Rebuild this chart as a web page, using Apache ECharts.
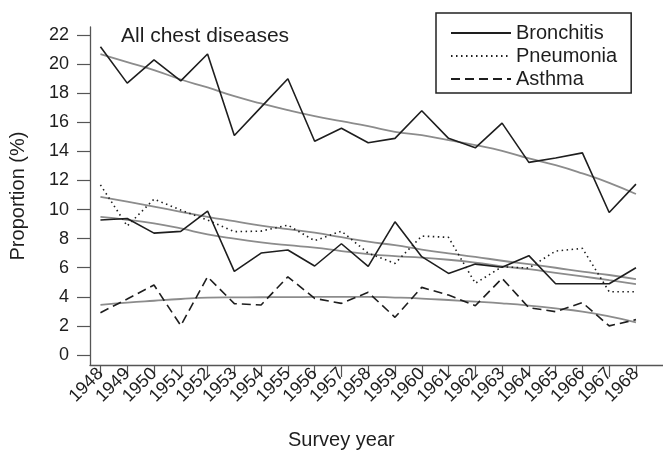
<!DOCTYPE html>
<html><head><meta charset="utf-8">
<script src="https://cdn.jsdelivr.net/npm/echarts@6/dist/echarts.min.js"></script>
<style>html,body{margin:0;padding:0;background:#fff}#c{width:663px;height:452px}</style>
</head><body><div id="c"></div>
<script>
const years = [1948,1949,1950,1951,1952,1953,1954,1955,1956,1957,1958,1959,1960,1961,1962,1963,1964,1965,1966,1967,1968];
const yTicks = [0,2,4,6,8,10,12,14,16,18,20,22];
const allChest = [21.2,18.7,20.3,18.85,20.7,15.1,17.05,19.0,14.7,15.6,14.6,14.9,16.8,14.9,14.25,15.95,13.25,13.55,13.9,9.8,11.75];
const bronchitis = [9.28,9.39,8.38,8.5,9.9,5.75,7.01,7.22,6.12,7.65,6.1,9.16,6.76,5.61,6.25,6.03,6.83,4.9,4.9,4.9,6.0];
const pneumonia = [11.7,8.87,10.72,9.97,9.28,8.48,8.52,8.93,7.86,8.52,7.0,6.3,8.18,8.09,4.93,6.07,5.98,7.15,7.33,4.35,4.35];
const asthma = [2.91,3.85,4.81,2.02,5.38,3.53,3.44,5.38,3.89,3.55,4.31,2.59,4.65,4.12,3.39,5.27,3.25,2.98,3.6,2.0,2.43];
const allChestTrend = [20.69,20.15,19.6,18.95,18.4,17.8,17.3,16.84,16.43,16.08,15.74,15.35,15.12,14.78,14.43,14.04,13.52,13.06,12.49,11.84,11.07];
const pneumoniaTrend = [10.88,10.55,10.2,9.85,9.5,9.2,8.9,8.65,8.41,8.1,7.79,7.55,7.25,6.99,6.75,6.48,6.25,6.0,5.73,5.5,5.22];
const bronchitisTrend = [9.5,9.3,9.05,8.7,8.3,8.0,7.75,7.55,7.38,7.15,6.94,6.8,6.7,6.55,6.35,6.1,5.9,5.65,5.4,5.15,4.88];
const asthmaTrend = [3.44,3.6,3.73,3.85,3.94,3.96,3.97,3.98,3.99,4.0,4.0,3.95,3.88,3.78,3.67,3.55,3.4,3.21,2.98,2.65,2.25];
const legendNames = ['Bronchitis','Pneumonia','Asthma'];

const pair = arr => years.map((y,i)=>[y, arr[i]]);
const FONT = '"Liberation Sans", Arial, sans-serif';
const INK = '#1e1e1e';
const GRAY = '#8c8c8c';
const AXIS = '#555';

const chart = echarts.init(document.getElementById('c'), null, {renderer:'canvas'});
const dataLine = (name, arr, type) => ({
  name, type:'line', data: pair(arr), symbol:'none', showSymbol:false, smooth:false, z:3,
  lineStyle:{color:INK, width:1.6, type: type}, itemStyle:{color:INK}, emphasis:{disabled:true}
});
const trendLine = (arr) => ({
  type:'line', data: pair(arr), symbol:'none', showSymbol:false, smooth:true, z:2,
  lineStyle:{color:GRAY, width:1.8}, itemStyle:{color:GRAY}, emphasis:{disabled:true}
});
chart.setOption({
  animation:false,
  textStyle:{fontFamily:FONT},
  title:{text:'All chest diseases', left:121, top:26, padding:0, textStyle:{fontFamily:FONT, fontSize:21, fontWeight:'normal', color:INK}},
  legend:{
    data: legendNames, orient:'vertical', left:436, top:13,
    padding:[9,14,3,14], itemGap:1, itemWidth:60, itemHeight:14,
    borderColor:'#222', borderWidth:1.5,
    itemStyle:{color:'rgba(0,0,0,0)', borderColor:'rgba(0,0,0,0)', borderWidth:0, opacity:0},
    textStyle:{fontFamily:FONT, fontSize:20, color:INK, lineHeight:22}
  },
  grid:{left:84, right:0, top:27, bottom:87, containLabel:false},
  xAxis:{
    type:'value', min:1947.61, max:1969.01,
    axisLine:{show:true, onZero:false, lineStyle:{color:AXIS, width:1.3}},
    axisTick:{show:true, customValues:years, length:12, lineStyle:{color:AXIS, width:1.2}},
    axisLabel:{customValues:years, rotate:45, fontSize:18, color:INK, fontFamily:FONT, margin:6, formatter: v=>String(v)},
    splitLine:{show:false}
  },
  yAxis:{
    type:'value', min:-0.69, max:22.56,
    name:'Proportion (%)', nameLocation:'middle', nameGap:62, nameRotate:90,
    nameTextStyle:{fontFamily:FONT, fontSize:20, color:INK},
    axisLine:{show:true, onZero:false, lineStyle:{color:AXIS, width:1.3}},
    axisTick:{show:true, customValues:yTicks, length:13, lineStyle:{color:AXIS, width:1.2}},
    axisLabel:{customValues:yTicks, fontSize:18, color:INK, fontFamily:FONT, margin:21},
    splitLine:{show:false}
  },
  graphic:[{type:'text', left:288, top:430,
    style:{text:'Survey year', font:'20px '+FONT, fill:INK}}],
  series:[
    trendLine(allChestTrend), trendLine(pneumoniaTrend), trendLine(bronchitisTrend), trendLine(asthmaTrend),
    dataLine('All chest diseases', allChest, 'solid'),
    dataLine('Bronchitis', bronchitis, 'solid'),
    dataLine('Pneumonia', pneumonia, [1.5,3.5]),
    dataLine('Asthma', asthma, [9,5])
  ]
});
</script></body></html>
